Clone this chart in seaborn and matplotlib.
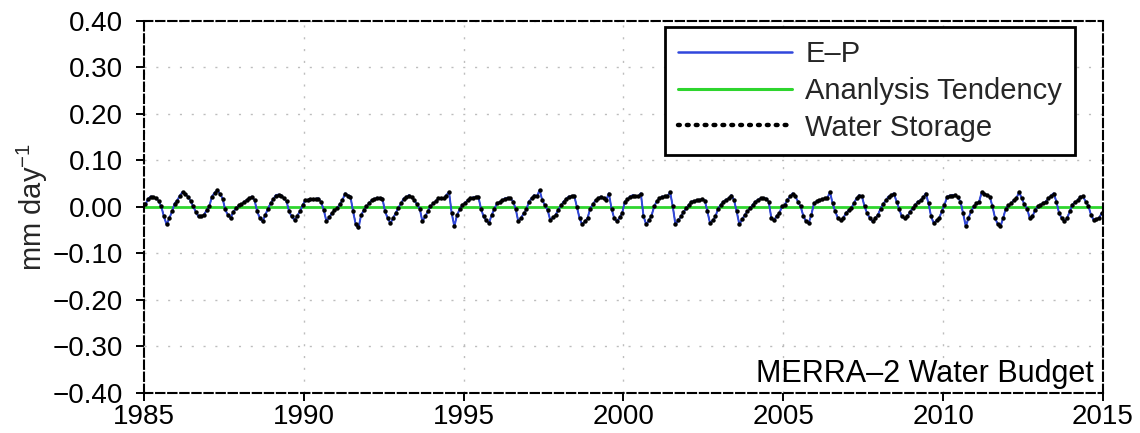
import numpy as np
import pandas as pd
import matplotlib
matplotlib.use("Agg")
import matplotlib.pyplot as plt
from matplotlib.lines import Line2D
from matplotlib.ticker import FuncFormatter
import seaborn as sns

# ---------------------------------------------------------------- data
start_year = 1985
end_year = 2015

# Monthly E-P (mm/day), one line per year, Jan..Dec
e_minus_p = [
    0.004, 0.016, 0.022, 0.021, 0.018, 0.012, 0.000, -0.022, -0.039, -0.025, -0.011, 0.007,   # 1985
    0.014, 0.024, 0.032, 0.027, 0.022, 0.012, 0.000, -0.012, -0.022, -0.021, -0.018, -0.008,  # 1986
    0.000, 0.022, 0.030, 0.036, 0.028, 0.018, -0.007, -0.018, -0.025, -0.011, -0.004, 0.002,  # 1987
    0.004, 0.010, 0.014, 0.018, 0.022, 0.014, -0.011, -0.025, -0.032, -0.018, -0.005, 0.007,  # 1988
    0.016, 0.025, 0.026, 0.025, 0.018, 0.011, -0.011, -0.022, -0.029, -0.020, -0.011, 0.002,  # 1989
    0.014, 0.015, 0.016, 0.016, 0.017, 0.018, 0.010, -0.008, -0.032, -0.024, -0.014, -0.008,  # 1990
    -0.004, 0.005, 0.014, 0.029, 0.025, 0.022, -0.011, -0.039, -0.047, -0.018, -0.008, 0.000, # 1991
    0.008, 0.014, 0.017, 0.019, 0.019, 0.018, -0.011, -0.025, -0.036, -0.025, -0.014, -0.002, # 1992
    0.007, 0.018, 0.021, 0.025, 0.020, 0.014, 0.005, -0.004, -0.032, -0.022, -0.011, 0.000,   # 1993
    0.007, 0.012, 0.018, 0.018, 0.018, 0.025, 0.032, -0.014, -0.043, -0.018, -0.006, 0.004,   # 1994
    0.008, 0.014, 0.018, 0.020, 0.021, 0.022, -0.004, -0.022, -0.030, -0.036, -0.018, -0.005, # 1995
    0.007, 0.010, 0.014, 0.018, 0.019, 0.018, 0.012, -0.004, -0.032, -0.025, -0.015, -0.007,  # 1996
    0.011, 0.018, 0.025, 0.022, 0.036, 0.014, 0.003, -0.007, -0.029, -0.024, -0.018, -0.007,  # 1997
    0.002, 0.011, 0.017, 0.022, 0.023, 0.024, 0.000, -0.025, -0.039, -0.032, -0.025, -0.004,  # 1998
    0.005, 0.014, 0.018, 0.022, 0.018, 0.014, 0.029, -0.004, -0.025, -0.032, -0.024, -0.014,  # 1999
    0.011, 0.016, 0.022, 0.025, 0.023, 0.022, 0.029, -0.020, -0.039, -0.030, -0.020, 0.000,   # 2000
    0.012, 0.018, 0.022, 0.022, 0.022, 0.032, 0.000, -0.039, -0.030, -0.022, -0.012, -0.004,  # 2001
    0.004, 0.011, 0.012, 0.014, 0.015, 0.016, 0.014, -0.011, -0.036, -0.030, -0.022, -0.004,  # 2002
    0.004, 0.011, 0.015, 0.018, 0.025, 0.014, -0.011, -0.039, -0.028, -0.018, -0.010, -0.004, # 2003
    0.004, 0.011, 0.015, 0.018, 0.018, 0.018, 0.011, -0.025, -0.030, -0.020, -0.014, 0.000,   # 2004
    0.004, 0.014, 0.022, 0.029, 0.022, 0.011, 0.000, -0.020, -0.032, -0.036, -0.018, 0.007,   # 2005
    0.012, 0.014, 0.016, 0.018, 0.018, 0.032, 0.007, -0.011, -0.025, -0.029, -0.025, -0.014,  # 2006
    -0.008, -0.004, 0.008, 0.018, 0.025, 0.022, 0.000, -0.015, -0.025, -0.032, -0.025, -0.018,# 2007
    -0.004, 0.006, 0.014, 0.022, 0.025, 0.029, 0.011, -0.005, -0.022, -0.025, -0.022, -0.012, # 2008
    -0.004, 0.004, 0.011, 0.014, 0.020, 0.029, 0.007, -0.022, -0.036, -0.030, -0.025, -0.010, # 2009
    0.004, 0.022, 0.024, 0.025, 0.025, 0.020, 0.011, -0.015, -0.043, -0.025, -0.010, 0.000,   # 2010
    0.007, 0.011, 0.032, 0.028, 0.025, 0.022, 0.000, -0.025, -0.038, -0.043, -0.025, -0.004,  # 2011
    0.003, 0.007, 0.014, 0.018, 0.032, 0.018, 0.005, -0.004, -0.025, -0.022, -0.007, 0.000,   # 2012
    0.004, 0.008, 0.011, 0.018, 0.024, 0.029, 0.011, -0.014, -0.025, -0.032, -0.025, -0.011,  # 2013
    0.004, 0.010, 0.014, 0.022, 0.022, 0.011, 0.002, -0.018, -0.029, -0.027, -0.025, -0.014,  # 2014
]

# Monthly water-storage change (mm/day), Jan..Dec
water_storage = [
    0.005, 0.017, 0.021, 0.020, 0.018, 0.013, 0.001, -0.021, -0.037, -0.024, -0.010, 0.006,   # 1985
    0.013, 0.023, 0.031, 0.027, 0.021, 0.013, 0.001, -0.011, -0.021, -0.020, -0.017, -0.007,  # 1986
    0.001, 0.021, 0.030, 0.035, 0.027, 0.017, -0.006, -0.017, -0.024, -0.011, -0.003, 0.003,  # 1987
    0.005, 0.010, 0.015, 0.018, 0.021, 0.014, -0.010, -0.024, -0.031, -0.018, -0.005, 0.008,  # 1988
    0.016, 0.024, 0.025, 0.024, 0.018, 0.012, -0.010, -0.021, -0.028, -0.019, -0.010, 0.003,  # 1989
    0.014, 0.015, 0.017, 0.016, 0.017, 0.017, 0.010, -0.007, -0.031, -0.023, -0.013, -0.007,  # 1990
    -0.003, 0.006, 0.014, 0.028, 0.024, 0.021, -0.010, -0.037, -0.044, -0.018, -0.007, 0.001, # 1991
    0.008, 0.014, 0.017, 0.018, 0.019, 0.017, -0.010, -0.024, -0.035, -0.024, -0.013, -0.002, # 1992
    0.007, 0.017, 0.021, 0.024, 0.020, 0.014, 0.005, -0.004, -0.031, -0.021, -0.010, 0.001,   # 1993
    0.007, 0.012, 0.018, 0.018, 0.018, 0.024, 0.031, -0.013, -0.041, -0.018, -0.006, 0.004,   # 1994
    0.008, 0.014, 0.018, 0.019, 0.021, 0.021, -0.004, -0.021, -0.029, -0.035, -0.018, -0.005, # 1995
    0.007, 0.010, 0.014, 0.017, 0.019, 0.018, 0.011, -0.004, -0.031, -0.024, -0.014, -0.006,  # 1996
    0.011, 0.018, 0.024, 0.022, 0.035, 0.014, 0.003, -0.007, -0.028, -0.023, -0.017, -0.007,  # 1997
    0.003, 0.011, 0.017, 0.021, 0.023, 0.023, 0.000, -0.024, -0.038, -0.031, -0.024, -0.004,  # 1998
    0.005, 0.014, 0.018, 0.021, 0.018, 0.014, 0.028, -0.004, -0.024, -0.031, -0.023, -0.013,  # 1999
    0.011, 0.016, 0.021, 0.024, 0.023, 0.022, 0.028, -0.019, -0.037, -0.029, -0.019, 0.001,   # 2000
    0.012, 0.018, 0.021, 0.022, 0.022, 0.031, 0.001, -0.037, -0.029, -0.021, -0.011, -0.003,  # 2001
    0.004, 0.011, 0.012, 0.014, 0.015, 0.016, 0.013, -0.010, -0.035, -0.029, -0.021, -0.004,  # 2002
    0.004, 0.011, 0.015, 0.018, 0.024, 0.014, -0.010, -0.037, -0.027, -0.018, -0.010, -0.003, # 2003
    0.004, 0.011, 0.015, 0.018, 0.018, 0.017, 0.011, -0.024, -0.029, -0.019, -0.013, 0.001,   # 2004
    0.004, 0.014, 0.022, 0.028, 0.022, 0.011, 0.001, -0.019, -0.031, -0.035, -0.017, 0.007,   # 2005
    0.012, 0.014, 0.016, 0.018, 0.018, 0.031, 0.007, -0.010, -0.024, -0.028, -0.024, -0.013,  # 2006
    -0.007, -0.003, 0.008, 0.018, 0.024, 0.022, 0.001, -0.014, -0.024, -0.031, -0.024, -0.017,# 2007
    -0.004, 0.006, 0.014, 0.021, 0.025, 0.028, 0.011, -0.005, -0.021, -0.024, -0.021, -0.011, # 2008
    -0.003, 0.004, 0.011, 0.014, 0.020, 0.028, 0.007, -0.021, -0.035, -0.029, -0.024, -0.009, # 2009
    0.004, 0.021, 0.024, 0.024, 0.025, 0.020, 0.011, -0.014, -0.041, -0.024, -0.010, 0.001,   # 2010
    0.007, 0.011, 0.031, 0.028, 0.025, 0.021, 0.001, -0.024, -0.037, -0.041, -0.024, -0.004,  # 2011
    0.003, 0.007, 0.014, 0.018, 0.031, 0.018, 0.005, -0.004, -0.024, -0.021, -0.007, 0.001,   # 2012
    0.004, 0.008, 0.011, 0.018, 0.024, 0.028, 0.011, -0.013, -0.024, -0.031, -0.024, -0.010,  # 2013
    0.004, 0.010, 0.014, 0.021, 0.022, 0.011, 0.002, -0.017, -0.028, -0.026, -0.024, -0.013,  # 2014
]

# Analysis tendency is zero throughout the period
analysis_tendency = [0.0] * len(e_minus_p)

x_ticks = [1985, 1990, 1995, 2000, 2005, 2010, 2015]
y_ticks = [-0.40, -0.30, -0.20, -0.10, 0.00, 0.10, 0.20, 0.30, 0.40]

series_labels = ["E\u2013P", "Ananlysis Tendency", "Water Storage"]
budget_title = "MERRA\u20132 Water Budget"
y_label = r"mm day$^{-1}$"

# ---------------------------------------------------------------- frame
n = len(e_minus_p)
months = np.arange(n)
time = start_year + (months + 0.5) / 12.0
df = pd.DataFrame({
    "time": time,
    "ep": e_minus_p,
    "storage": water_storage,
    "tendency": analysis_tendency,
})

# ---------------------------------------------------------------- style
sns.set_theme(style="white")
plt.rcParams["font.family"] = ["Liberation Sans", "DejaVu Sans"]
plt.rcParams["mathtext.fontset"] = "custom"
plt.rcParams["mathtext.rm"] = "Liberation Sans"
plt.rcParams["mathtext.it"] = "Liberation Sans:italic"
plt.rcParams["axes.unicode_minus"] = True

fig = plt.figure(figsize=(11.4, 4.33), dpi=100)
ax = fig.add_axes([144 / 1140, 1 - 392.7 / 433, 959 / 1140, 372 / 433])

blue = "#3047dc"
green = "#2ed52e"

sns.lineplot(data=df, x="time", y="tendency", ax=ax, color=green, linewidth=2.0, zorder=2)
sns.lineplot(data=df, x="time", y="storage", ax=ax, color="black", linewidth=0.9, zorder=3)
sns.lineplot(data=df, x="time", y="ep", ax=ax, color=blue, linewidth=1.4, zorder=4)
ax.plot(df["time"], df["storage"], linestyle="none", marker="o", markersize=3.2,
        color="black", markeredgewidth=0, zorder=5)

# ---------------------------------------------------------------- axes
ax.set_xlim(start_year, end_year)
ax.set_ylim(-0.40, 0.40)
ax.set_xticks(x_ticks)
ax.set_yticks(y_ticks)
ax.yaxis.set_major_formatter(
    FuncFormatter(lambda v, _: f"{v:.2f}".replace("-0.00", "0.00").replace("-", "\u2212")))
ax.tick_params(axis="both", direction="out", length=6, width=1.4, colors="black",
               labelsize=20, bottom=True, left=True, top=False, right=False)
ax.tick_params(axis="x", pad=2)
ax.tick_params(axis="y", pad=9)

ax.grid(True, color="#bdbdbd", linewidth=1.0, linestyle=(0, (1.5, 7)))
for side in ["left", "right", "top", "bottom"]:
    sp = ax.spines[side]
    sp.set_visible(True)
    sp.set_color("black")
    sp.set_linewidth(1.5)
    sp.set_linestyle((0, (4, 1.8)))

ax.set_xlabel("")
ax.set_ylabel(y_label, fontsize=21)
ax.yaxis.set_label_coords(-0.098, 0.5)

ax.text(0.99, 0.03, budget_title, transform=ax.transAxes, ha="right", va="baseline",
        fontsize=22, color="black")

handles = [
    Line2D([], [], color=blue, linewidth=1.8),
    Line2D([], [], color=green, linewidth=2.2),
    Line2D([], [], color="black", linewidth=3.2, linestyle=(0, (0.4, 1.6)),
           dash_capstyle="round"),
]
leg = ax.legend(handles, series_labels, loc="upper right", bbox_to_anchor=(0.971, 0.983),
                borderaxespad=0, fontsize=21, frameon=True, fancybox=False,
                handlelength=3.9, handletextpad=0.45, labelspacing=0.3,
                borderpad=0.45, edgecolor="black", framealpha=1)
leg.get_frame().set_linewidth(2.0)

fig.savefig("out.png", dpi=100, facecolor="white")
